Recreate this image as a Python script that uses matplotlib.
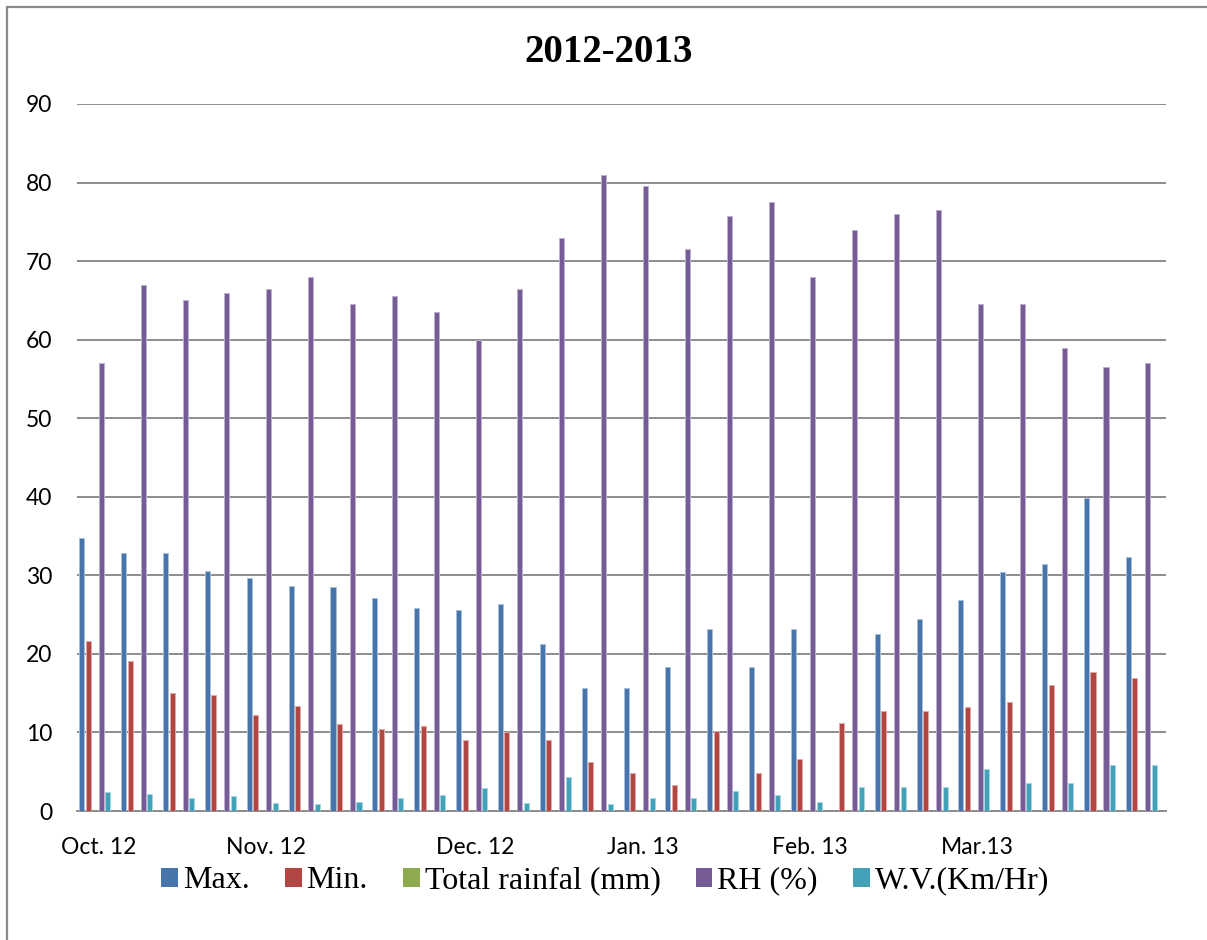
import numpy as np
import matplotlib
matplotlib.use("Agg")
import matplotlib.pyplot as plt
from matplotlib.patches import Rectangle

# Weekly weather record, October 2012 - March 2013
weeks = ["Oct. 12", "", "", "", "Nov. 12", "", "", "", "", "Dec. 12",
         "", "", "", "Jan. 13", "", "", "", "Feb. 13", "", "", "",
         "Mar.13", "", "", "", ""]
max_temp = [34.8, 32.8, 32.9, 30.6, 29.6, 28.6, 28.5, 27.1, 25.8, 25.6,
            26.3, 21.2, 15.7, 15.6, 18.3, 23.2, 18.3, 23.2, np.nan, 22.5,
            24.4, 26.8, 30.4, 31.5, 39.9, 32.3]
min_temp = [21.7, 19.1, 15.0, 14.8, 12.2, 13.4, 11.1, 10.4, 10.8, 9.0,
            10.1, 9.1, 6.3, 4.9, 3.3, 10.2, 4.9, 6.6, 11.2, 12.7,
            12.7, 13.3, 13.9, 16.1, 17.7, 16.9]
rainfall = [0.0, 0.0, 0.0, 0.0, 0.0, 0.0, 0.0, 0.0, 0.0, 0.0,
            0.0, 0.0, 0.0, 0.0, 0.0, 0.0, 0.0, 0.0, 0.0, 0.0,
            0.0, 0.0, 0.0, 0.0, 0.0, 0.0]
rel_humidity = [57.0, 67.0, 65.0, 66.0, 66.5, 68.0, 64.5, 65.5, 63.5, 60.0,
                66.5, 73.0, 81.0, 79.5, 71.5, 75.7, 77.5, 68.0, 74.0, 76.0,
                76.5, 64.5, 64.5, 59.0, 56.5, 57.0]
wind_velocity = [2.4, 2.2, 1.7, 1.9, 1.0, 0.9, 1.1, 1.6, 2.0, 2.9,
                 1.0, 4.3, 0.9, 1.6, 1.7, 2.5, 2.1, 1.2, 3.0, 3.1,
                 3.0, 5.4, 3.6, 3.6, 5.8, 5.8]

series_names = ["Max.", "Min.", "Total rainfal (mm)", "RH (%)", "W.V.(Km/Hr)"]
series_values = [max_temp, min_temp, rainfall, rel_humidity, wind_velocity]
fill_colors = ["#4774AB", "#B24642", "#8EAA4F", "#755C94", "#44A2B8"]
edge_colors = ["#A9C0DD", "#E0AAA8", "#C9DAA6", "#BFB0D3", "#A6D6E2"]

W, H = 1207, 940
fig = plt.figure(figsize=(W / 100, H / 100), dpi=100)
fig.patch.set_facecolor("white")

# outer chart frame
fig.add_artist(Rectangle((7 / W, -0.05), 1.2, 1 - 7 / H + 0.05,
                         transform=fig.transFigure, fill=False,
                         edgecolor="#8a8a8a", linewidth=1.6))

left, right = 77.3 / W, 1165.7 / W
bottom, top = 1 - 811 / H, 1 - 104 / H
ax = fig.add_axes([left, bottom, right - left, top - bottom])

n = len(weeks)
idx = np.arange(n)
slot = 0.1553
bar_w = 0.12
start = 0.048
for j, (name, vals) in enumerate(zip(series_names, series_values)):
    x = idx + start + j * slot + bar_w / 2
    lw = 0 if j == 2 else 0.7
    ax.bar(x, vals, width=bar_w, color=fill_colors[j], edgecolor=edge_colors[j],
           linewidth=lw, label=name, zorder=3)

ax.set_xlim(0, n)
ax.set_ylim(0, 90)
ax.set_yticks(np.arange(0, 91, 10))
ax.yaxis.grid(True, color="#8c8c8c", linewidth=1.4, zorder=1)
ax.set_axisbelow(True)
for side in ("top", "right", "left"):
    ax.spines[side].set_visible(False)
ax.spines["bottom"].set_color("#8c8c8c")
ax.spines["bottom"].set_linewidth(1.4)

ax.set_xticks(idx + 0.5)
ax.set_xticklabels(weeks)
ax.tick_params(axis="both", length=0, labelsize=16.5)
ax.tick_params(axis="x", pad=19)
ax.tick_params(axis="y", pad=18)
for lab in ax.get_xticklabels() + ax.get_yticklabels():
    lab.set_fontfamily("Lato")

fig.text(608.5 / W, 1 - 62 / H, "2012-2013", ha="center", va="baseline",
         fontsize=28, fontweight="bold", family="Liberation Serif")

handles = [Rectangle((0, 0), 1, 1, facecolor=c, edgecolor="none") for c in fill_colors]
fig.legend(handles, series_names, loc="center", bbox_to_anchor=(605 / W, 1 - 881 / H),
           ncol=5, frameon=False, prop={"family": "Liberation Serif", "size": 23},
           handlelength=0.53, handleheight=0.53, handletextpad=0.15,
           columnspacing=1.1, borderpad=0, borderaxespad=0)

fig.savefig("out.png", dpi=100, facecolor="white")
